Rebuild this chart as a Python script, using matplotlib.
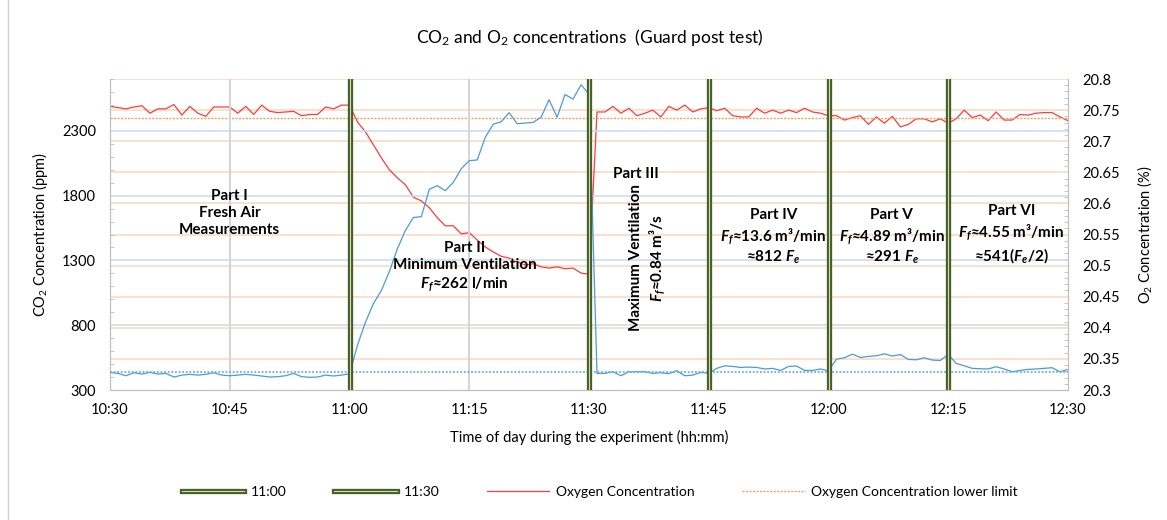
import numpy as np
import matplotlib
matplotlib.use("Agg")
import matplotlib.pyplot as plt
import matplotlib.patheffects as pe
from matplotlib.lines import Line2D
from matplotlib.ticker import FuncFormatter, MultipleLocator

plt.rcParams.update({
    "font.family": ["Lato", "DejaVu Sans"],
    "font.size": 10.5,
    "mathtext.fontset": "custom",
    "mathtext.rm": "Lato",
    "mathtext.it": "Lato:italic:bold",
    "mathtext.bf": "Lato:bold",
})

# ---- data (one sample per minute, 10:30 .. 12:30) ----
start_hour, start_min = 10, 30
tick_labels = ["10:30", "10:45", "11:00", "11:15", "11:30", "11:45", "12:00", "12:15", "12:30"]
phase_marks = ["11:00", "11:30", "11:45", "12:00", "12:15"]

co2_ppm = [
    436, 428, 410, 433, 423, 436, 423, 428, 400, 415, 421, 415, 421, 433, 415, 410,
    415, 421, 415, 408, 400, 403, 410, 428, 403, 398, 400, 415, 408, 415, 425,
    646, 823, 967, 1069, 1215, 1390, 1531, 1631, 1638, 1850, 1877, 1838, 1902, 2008, 2070,
    2075, 2249, 2351, 2370, 2440, 2355, 2360, 2365, 2405, 2540, 2405, 2580, 2545, 2655, 2585,
    428, 428, 441, 410, 441, 441, 441, 428, 433, 426, 449, 410, 415, 436, 428,
    467, 487, 482, 474, 477, 474, 462, 467, 451, 482, 485, 451, 451, 462, 448,
    538, 549, 577, 551, 559, 564, 579, 562, 574, 536, 533, 549, 531, 528, 574,
    505, 487, 467, 464, 462, 480, 462, 441, 451, 459, 462, 467, 472, 441, 459,
]

o2_pct = [
    20.756, 20.754, 20.752, 20.755, 20.757, 20.745, 20.752, 20.752, 20.759, 20.742, 20.756,
    20.745, 20.740, 20.755, 20.755, 20.755, 20.745, 20.756, 20.743, 20.758, 20.748, 20.746,
    20.747, 20.748, 20.741, 20.743, 20.743, 20.755, 20.752, 20.758, 20.758,
    20.731, 20.715, 20.694, 20.673, 20.654, 20.641, 20.630, 20.610, 20.604, 20.593, 20.577,
    20.564, 20.564, 20.551, 20.553, 20.541, 20.530, 20.522, 20.515, 20.512, 20.506, 20.501,
    20.503, 20.498, 20.496, 20.498, 20.495, 20.496, 20.488, 20.486,
    20.747, 20.747, 20.756, 20.745, 20.753, 20.741, 20.745, 20.750, 20.739, 20.756, 20.750,
    20.758, 20.747, 20.752, 20.754, 20.749, 20.753, 20.741, 20.739, 20.739, 20.753, 20.745,
    20.750, 20.745, 20.750, 20.746, 20.753, 20.747, 20.745, 20.741,
    20.741, 20.734, 20.738, 20.741, 20.727, 20.739, 20.729, 20.740, 20.723, 20.727, 20.736,
    20.736, 20.731, 20.736, 20.729, 20.736, 20.750, 20.738, 20.742, 20.733, 20.747, 20.734,
    20.734, 20.743, 20.742, 20.745, 20.746, 20.746, 20.739, 20.733,
]

co2_baseline = 440
o2_lower_limit = 20.738


def to_min(label):
    h, m = label.split(":")
    return (int(h) - start_hour) * 60 + int(m) - start_min


minutes = np.arange(len(co2_ppm))

# ---- figure ----
fig = plt.figure(figsize=(11.67, 5.2), dpi=100)
ax = fig.add_axes([110 / 1167, 130 / 520, 958 / 1167, 311 / 520])
ax2 = ax.twinx()
ax.set_zorder(ax2.get_zorder() + 1)
ax.patch.set_visible(False)

ax.set_xlim(0, 120)
ax.set_ylim(300, 2700)
ax2.set_ylim(20.3, 20.8)

# grid lines
for v in np.arange(20.35, 20.81, 0.05):
    ax2.axhline(v, color="#fbd9bf", lw=1.1, zorder=0)
for v in [800, 1300, 1800, 2300]:
    ax.axhline(v, color="#cdd9ea", lw=1.1, zorder=0)
for lab in tick_labels[1:-1]:
    ax.axvline(to_min(lab), color="#d4d4d4", lw=1.4, zorder=0)

# series
ax.plot(minutes, co2_ppm, color="#4a9bd8", lw=0.9, zorder=3)
ax.axhline(co2_baseline, color="#6aaee0", lw=1.3, ls=(0, (1, 1)), zorder=3)
ax2.plot(minutes, o2_pct, color="#ff3b3b", lw=0.9, label="Oxygen Concentration")
ax2.axhline(o2_lower_limit, color="#f0a060", lw=1.0, ls=(0, (1.5, 1)),
            label="Oxygen Concentration lower limit")

green_fx = [pe.Stroke(linewidth=3.8, foreground="#465f28"), pe.Normal()]
for lab in phase_marks:
    ax.axvline(to_min(lab), color="#cfdcb8", lw=0.8, path_effects=green_fx, zorder=5)

# axes styling
for a in (ax, ax2):
    a.spines["top"].set_visible(False)
    for s in ("left", "right", "bottom"):
        a.spines[s].set_color("#bfbfbf")
ax.set_xticks([to_min(l) for l in tick_labels])
ax.set_xticklabels(tick_labels)
ax.tick_params(axis="x", length=0, pad=9)
ax.set_yticks([300, 800, 1300, 1800, 2300])
ax.yaxis.set_minor_locator(MultipleLocator(100))
ax.tick_params(axis="y", which="major", length=0, pad=10)
ax.tick_params(axis="y", which="minor", direction="in", length=3, color="#bfbfbf")
ax2.set_yticks(np.arange(20.3, 20.81, 0.05))
ax2.yaxis.set_major_formatter(FuncFormatter(lambda v, p: "%g" % round(v, 2)))
ax2.yaxis.set_minor_locator(MultipleLocator(0.01))
ax2.tick_params(axis="y", which="major", length=0, pad=10)
ax2.tick_params(axis="y", which="minor", direction="in", length=3, color="#bfbfbf")

ax.set_xlabel("Time of day during the experiment (hh:mm)", fontsize=10.5)
ax.xaxis.set_label_coords(0.5, -0.13)
ax.set_ylabel("CO$_2$ Concentration (ppm)", fontsize=10.5)
ax.yaxis.set_label_coords(-0.063, 0.5)
ax2.set_ylabel("O$_2$ Concentration (%)", fontsize=10.5)
ax2.yaxis.set_label_coords(1.07, 0.5)

fig.text(590 / 1167, 1 - 38 / 520, "CO$_2$ and O$_2$ concentrations  (Guard post test)",
         ha="center", va="center", fontsize=12.5)

# annotations
txt = dict(ha="center", va="center", fontsize=11, fontweight="bold",
           multialignment="center", linespacing=1.25, zorder=6)
ax.text(15, 1665, "Part I\nFresh Air\nMeasurements", **txt)
ax.text(44.4, 1250, "Part II\nMinimum Ventilation\n$F_f$≈262 l/min", **txt)
ax.text(65.9, 1970, "Part III", **txt)
ax.text(67.4, 1320, "Maximum Ventilation\n$F_f$≈0.84 m³/s", rotation=90, **txt)
ax.text(83.1, 1480, "Part IV\n$F_f$≈13.6 m³/min\n≈812 $F_e$", **txt)
ax.text(97.9, 1480, "Part V\n$F_f$≈4.89 m³/min\n≈291 $F_e$", **txt)
ax.text(112.9, 1500, "Part VI\n$F_f$≈4.55 m³/min\n≈541($F_e$/2)", **txt)

# legend
handles = [
    Line2D([], [], color="#cfdcb8", lw=0.8, path_effects=green_fx),
    Line2D([], [], color="#cfdcb8", lw=0.8, path_effects=green_fx),
    Line2D([], [], color="#ff3b3b", lw=0.9),
    Line2D([], [], color="#f0a060", lw=1.0, ls=(0, (1.5, 1))),
]
labels = ["11:00", "11:30", "Oxygen Concentration", "Oxygen Concentration lower limit"]
fig.legend(handles, labels, loc="center", bbox_to_anchor=(600 / 1167, 1 - 492 / 520),
           ncol=4, frameon=False, fontsize=10, handlelength=4.5, columnspacing=3.4,
           handletextpad=0.5)

# chart area border (left edge visible)
fig.add_artist(plt.Rectangle((8 / 1167, -0.02), 1.1, 1.1, transform=fig.transFigure,
                             fill=False, edgecolor="#d0d0d0", lw=1))

fig.savefig("out.png", dpi=100)
